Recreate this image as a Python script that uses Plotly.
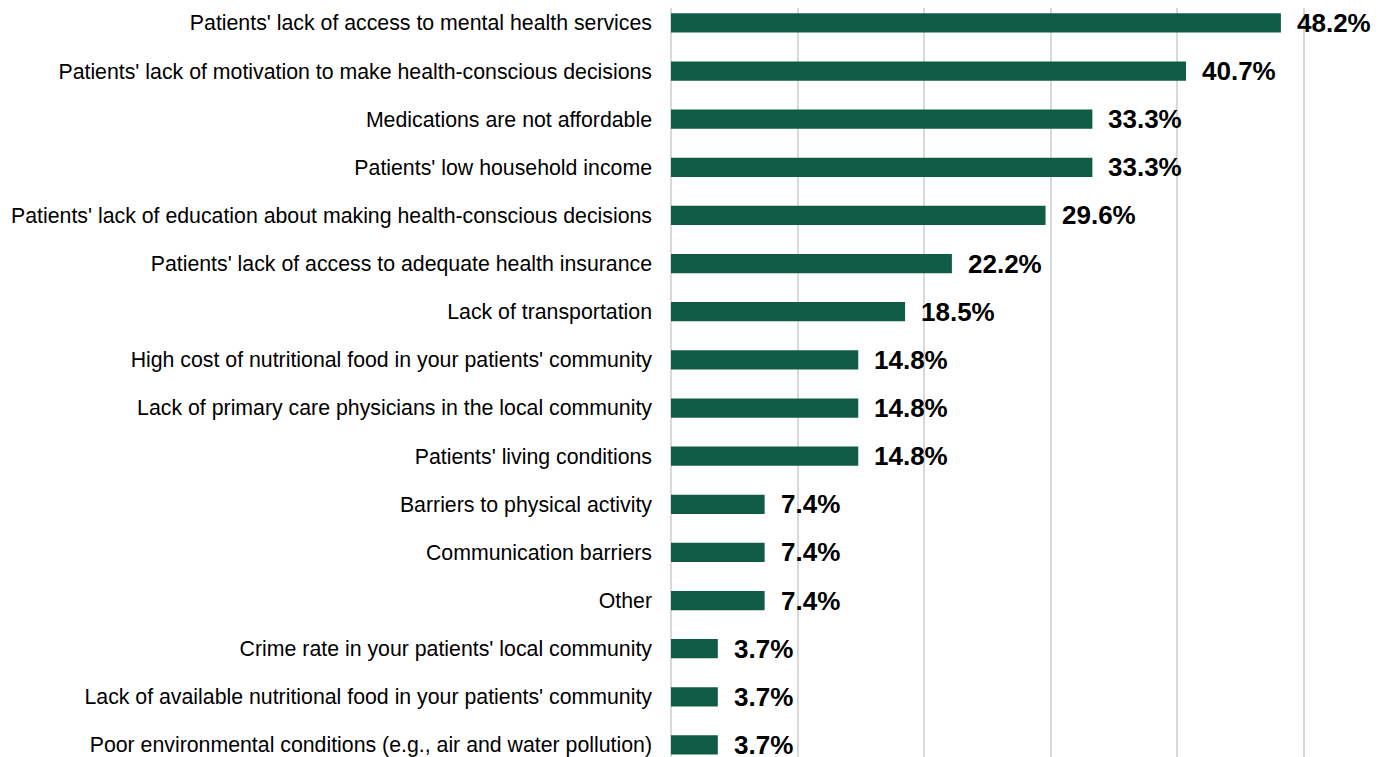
import plotly.graph_objects as go

categories = [
    "Patients' lack of access to mental health services",
    "Patients' lack of motivation to make health-conscious decisions",
    "Medications are not affordable",
    "Patients' low household income",
    "Patients' lack of education about making health-conscious decisions",
    "Patients' lack of access to adequate health insurance",
    "Lack of transportation",
    "High cost of nutritional food in your patients' community",
    "Lack of primary care physicians in the local community",
    "Patients' living conditions",
    "Barriers to physical activity",
    "Communication barriers",
    "Other",
    "Crime rate in your patients' local community",
    "Lack of available nutritional food in your patients' community",
    "Poor environmental conditions (e.g., air and water pollution)",
]
values = [48.2, 40.7, 33.3, 33.3, 29.6, 22.2, 18.5, 14.8, 14.8, 14.8, 7.4, 7.4, 7.4, 3.7, 3.7, 3.7]
labels = [f"{v:.1f}%" for v in values]

GREEN = "#105C47"
FONT = "Liberation Sans, Arial, sans-serif"

fig = go.Figure()
fig.add_trace(go.Bar(
    x=values, y=categories, orientation="h",
    marker=dict(color=GREEN, line=dict(width=0)),
    width=0.4, hoverinfo="skip",
))

for c, v, t in zip(categories, values, labels):
    fig.add_annotation(
        x=v, y=c, text=f"<b>{t}</b>", showarrow=False,
        xanchor="left", yanchor="middle", xshift=14, yshift=0,
        font=dict(family=FONT, size=26, color="#000000"),
    )

fig.update_layout(
    width=1379, height=749,
    margin=dict(l=663, r=77, t=0, b=0),
    paper_bgcolor="white", plot_bgcolor="white",
    showlegend=False,
    font=dict(family=FONT, color="#000000"),
    xaxis=dict(
        range=[0, 50.5], tickvals=[0, 10, 20, 30, 40, 50],
        showticklabels=False, showgrid=True, gridcolor="#d9d9d9", gridwidth=1.5,
        zeroline=True, zerolinecolor="#d9d9d9", zerolinewidth=1.5,
        showline=False, fixedrange=True,
    ),
    yaxis=dict(
        type="category", categoryorder="array", categoryarray=categories,
        range=[15.25, -0.31], showgrid=False, zeroline=False, showline=False,
        tickfont=dict(family=FONT, size=21.3, color="#000000"),
        ticklabelstandoff=18, ticks="",
    ),
)

fig.write_html("out.html")
